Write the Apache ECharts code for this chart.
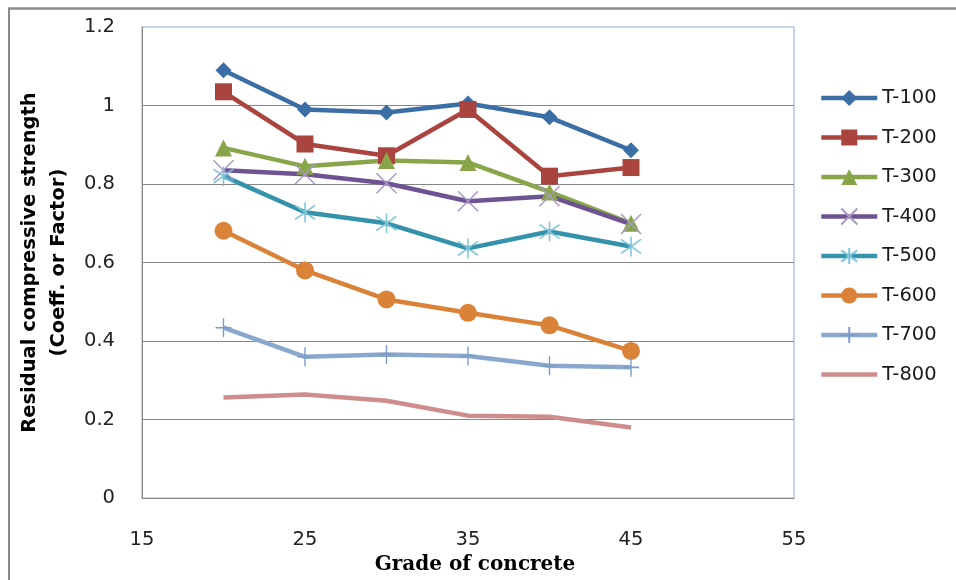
<!DOCTYPE html>
<html>
<head>
<meta charset="utf-8">
<script src="https://cdn.jsdelivr.net/npm/echarts@6/dist/echarts.min.js"></script>
<style>
html,body{margin:0;padding:0;background:#fff;}
#chart{width:956px;height:580px;}
</style>
</head>
<body>
<div id="chart"></div>
<script>
var grades = [20, 25, 30, 35, 40, 45];
var seriesNames = ['T-100', 'T-200', 'T-300', 'T-400', 'T-500', 'T-600', 'T-700', 'T-800'];
var t100 = [1.09, 0.99, 0.982, 1.005, 0.97, 0.886];
var t200 = [1.035, 0.902, 0.872, 0.99, 0.82, 0.842];
var t300 = [0.892, 0.845, 0.86, 0.855, 0.78, 0.70];
var t400 = [0.835, 0.825, 0.802, 0.756, 0.769, 0.698];
var t500 = [0.82, 0.728, 0.70, 0.636, 0.679, 0.641];
var t600 = [0.681, 0.58, 0.506, 0.472, 0.44, 0.375];
var t700 = [0.434, 0.36, 0.366, 0.362, 0.337, 0.333];
var t800 = [0.256, 0.264, 0.248, 0.21, 0.207, 0.18];
var yTicks = [0, 0.2, 0.4, 0.6, 0.8, 1, 1.2];
var xTicks = [15, 25, 35, 45, 55];

var allData = [t100, t200, t300, t400, t500, t600, t700, t800];
var lineColors = ['#3B6EA5', '#A9443E', '#88A54A', '#6E5393', '#3592AB', '#DA8238', '#8AA8CE', '#CE8C8C'];
var markerColors = ['#3B6EA5', '#A9443E', '#88A54A', '#A898C4', '#7CC4D8', '#DA8238', '#7C9CC8', '#C07A7A'];
var symbols = [
  'diamond', 'rect', 'triangle',
  'path://M0,0L20,20M20,0L0,20',
  'path://M10,0L10,20M2,3L18,17M18,3L2,17',
  'circle',
  'path://M10,0L10,20M1,10L19,10',
  'none'
];
var symbolSizes = [16, 17, 17, 20, 20, 18, [16, 19], 0];

function pairs(arr) {
  return grades.map(function (g, i) { return [g, arr[i]]; });
}

var series = seriesNames.map(function (name, i) {
  var isPath = symbols[i].indexOf('path://') === 0;
  return {
    name: name,
    type: 'line',
    data: pairs(allData[i]),
    symbol: symbols[i],
    symbolSize: symbolSizes[i],
    showSymbol: symbols[i] !== 'none',
    lineStyle: { color: lineColors[i], width: 4.5 },
    itemStyle: isPath
      ? { color: markerColors[i], borderColor: markerColors[i], borderWidth: 1.5 }
      : { color: markerColors[i], borderWidth: 0 },
    emphasis: { disabled: true },
    animation: false
  };
});

var legendData = seriesNames.map(function (name, i) {
  return symbols[i] === 'none'
    ? { name: name, itemStyle: { opacity: 0 } }
    : { name: name };
});

var chart = echarts.init(document.getElementById('chart'), null, { renderer: 'canvas' });
chart.setOption({
  backgroundColor: '#ffffff',
  animation: false,
  grid: {
    left: 142, right: 162, top: 27, bottom: 81,
    show: true, borderColor: '#8EABD4', borderWidth: 1, backgroundColor: 'transparent'
  },
  legend: {
    orient: 'vertical',
    left: 819,
    top: 88,
    padding: 0,
    itemWidth: 56,
    itemHeight: 20,
    itemGap: 19.5,
    data: legendData,
    lineStyle: { width: 4.5 },
    textStyle: { fontFamily: 'DejaVu Sans', fontSize: 19.5, lineHeight: 20, color: '#1a1a1a' }
  },
  xAxis: {
    type: 'value',
    min: xTicks[0],
    max: xTicks[xTicks.length - 1],
    interval: 10,
    name: 'Grade of concrete',
    nameLocation: 'middle',
    nameGap: 53,
    nameTextStyle: { fontFamily: 'DejaVu Serif', fontWeight: 'bold', fontSize: 20, color: '#000', padding: [0, 0, 0, 14] },
    axisLine: { show: true, lineStyle: { color: '#868686', width: 1 } },
    axisTick: { show: false },
    splitLine: { show: false },
    axisLabel: { fontFamily: 'DejaVu Sans', fontSize: 19.5, color: '#222', margin: 32 }
  },
  yAxis: {
    type: 'value',
    min: yTicks[0],
    max: yTicks[yTicks.length - 1],
    interval: 0.2,
    name: 'Residual compressive strength\n(Coeff. or Factor)',
    nameLocation: 'middle',
    nameRotate: 90,
    nameGap: 67,
    nameTextStyle: { fontFamily: 'DejaVu Sans', fontWeight: 'bold', fontSize: 19.5, color: '#000', lineHeight: 29 },
    axisLine: { show: true, lineStyle: { color: '#868686', width: 1 } },
    axisTick: { show: false },
    splitLine: { show: true, showMaxLine: false, lineStyle: { color: '#868686', width: 1 } },
    axisLabel: { fontFamily: 'DejaVu Sans', fontSize: 19.5, color: '#222', margin: 27 }
  },
  graphic: [
    { type: 'line', shape: { x1: 8, y1: 8.5, x2: 956, y2: 8.5 }, style: { stroke: '#8a8a8a', lineWidth: 2.5 } },
    { type: 'line', shape: { x1: 9, y1: 8, x2: 9, y2: 580 }, style: { stroke: '#8a8a8a', lineWidth: 2 } }
  ],
  series: series
});
</script>
</body>
</html>
